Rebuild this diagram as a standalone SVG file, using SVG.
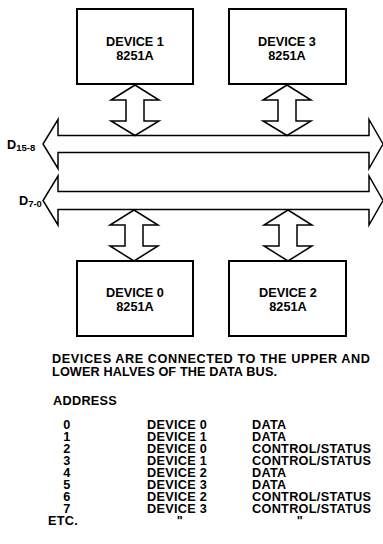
<svg xmlns="http://www.w3.org/2000/svg" width="383" height="544" viewBox="0 0 383 544">
<style>
.box{fill:#fff;stroke:#000;stroke-width:2}
.arr{fill:#fff;stroke:#000;stroke-width:1.5;stroke-linejoin:miter}
text{font-family:"Liberation Sans",Arial,Helvetica,sans-serif;font-weight:bold;font-size:12.7px;fill:#000}
.c{text-anchor:middle}
.sub{font-size:9.5px}
.t{letter-spacing:0.3px}
</style>
<rect width="383" height="544" fill="#fff"/>
<g id="connectors">
<polygon class="arr" points="58,135.5 369,135.5 369,119.5 383,144 369,168.5 369,152.5 58,152.5 58,168.5 43,144 58,119.5"/>
<polygon class="arr" points="58,191.5 369,191.5 369,176 383,200.5 369,225 369,209.5 58,209.5 58,225 43,200.5 58,176"/>
<polygon class="arr" points="135,85 159,100 144,100 144,121 159,121 135,135.5 111,121 126,121 126,100 111,100"/>
<polygon class="arr" points="287,85 311,100 296,100 296,121 311,121 287,135.5 263,121 278,121 278,100 263,100"/>
<polygon class="arr" points="134,210 158,225 143,225 143,246 158,246 134,261 110,246 125,246 125,225 110,225"/>
<polygon class="arr" points="288,210 312,225 297,225 297,246 312,246 288,261 264,246 279,246 279,225 264,225"/>
</g>
<g id="label-d15-8"><text x="7" y="149">D<tspan class="sub" dy="1.5">15-8</tspan></text></g>
<g id="label-d7-0"><text x="19" y="205">D<tspan class="sub" dy="1.5">7-0</tspan></text></g>
<g id="device1">
<rect class="box" x="77" y="9" width="116" height="75"/>
<text class="c" x="135" y="46">DEVICE 1</text>
<text class="c" x="135" y="60">8251A</text>
</g>
<g id="device3">
<rect class="box" x="229" y="9" width="117" height="75"/>
<text class="c" x="287" y="46">DEVICE 3</text>
<text class="c" x="287" y="60">8251A</text>
</g>
<g id="device0">
<rect class="box" x="77" y="261" width="116" height="75"/>
<text class="c" x="135" y="297">DEVICE 0</text>
<text class="c" x="135" y="311">8251A</text>
</g>
<g id="device2">
<rect class="box" x="229" y="261" width="117" height="75"/>
<text class="c" x="288" y="297">DEVICE 2</text>
<text class="c" x="288" y="311">8251A</text>
</g>
<g id="notes">
<text x="52" y="363" textLength="318" lengthAdjust="spacing">DEVICES ARE CONNECTED TO THE UPPER AND</text>
<text x="52" y="376" textLength="225" lengthAdjust="spacing">LOWER HALVES OF THE DATA BUS.</text>
<text class="t" x="53" y="405">ADDRESS</text>
</g>
<g id="table" class="t">
<text class="c" x="67" y="428.5">0</text><text x="147" y="428.5">DEVICE 0</text><text x="252" y="428.5">DATA</text>
<text class="c" x="67" y="440.5">1</text><text x="147" y="440.5">DEVICE 1</text><text x="252" y="440.5">DATA</text>
<text class="c" x="67" y="452.5">2</text><text x="147" y="452.5">DEVICE 0</text><text x="252" y="452.5">CONTROL/STATUS</text>
<text class="c" x="67" y="464.5">3</text><text x="147" y="464.5">DEVICE 1</text><text x="252" y="464.5">CONTROL/STATUS</text>
<text class="c" x="67" y="476.5">4</text><text x="147" y="476.5">DEVICE 2</text><text x="252" y="476.5">DATA</text>
<text class="c" x="67" y="488.5">5</text><text x="147" y="488.5">DEVICE 3</text><text x="252" y="488.5">DATA</text>
<text class="c" x="67" y="500.5">6</text><text x="147" y="500.5">DEVICE 2</text><text x="252" y="500.5">CONTROL/STATUS</text>
<text class="c" x="67" y="512.5">7</text><text x="147" y="512.5">DEVICE 3</text><text x="252" y="512.5">CONTROL/STATUS</text>
<text class="c" x="63" y="524.5">ETC.</text><text class="c" x="180" y="524.5">"</text><text class="c" x="300" y="524.5">"</text>
</g>
</svg>
